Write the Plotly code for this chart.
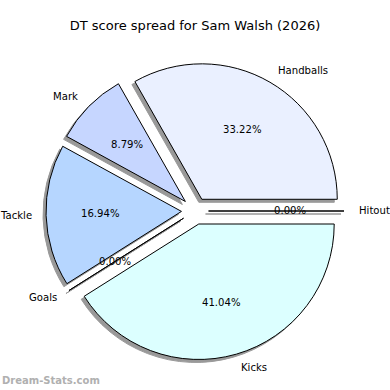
import math
import plotly.graph_objects as go

labels = ["Handballs", "Mark", "Tackle", "Goals", "Kicks", "Hitout"]
values = [33.22, 8.79, 16.94, 0.00, 41.04, 0.00]
colors = ["#eaf0ff", "#c6d6ff", "#b6d6ff", "#b6d6ff", "#dcffff", "#eaf0ff"]
explode = 0.1

total = sum(values)
# start first slice at 3 o'clock going counterclockwise (matplotlib default)
rot = 90 - 360 * values[0] / total

W = H = 390
cx, cy, R = 195, 211, 149  # pixel centre and half-size of pie domain
r = R / (1 + explode)       # pie radius as plotly draws it
sh = 3  # shadow offset px

def dom(dx, dy):
    return dict(x=[(cx - R + dx) / W, (cx + R + dx) / W],
                y=[1 - (cy + R + dy) / H, 1 - (cy - R + dy) / H])

fig = go.Figure()
fig.add_trace(go.Pie(
    labels=labels, values=values, sort=False, direction="counterclockwise",
    rotation=rot, pull=[explode] * len(labels), domain=dom(-sh, sh),
    marker=dict(colors=["#999999"] * len(labels), line=dict(color="#999999", width=1)),
    textinfo="none", showlegend=False, hoverinfo="skip",
))
fig.add_trace(go.Pie(
    labels=labels, values=values, sort=False, direction="counterclockwise",
    rotation=rot, pull=[explode] * len(labels), domain=dom(0, 0),
    marker=dict(colors=colors, line=dict(color="black", width=1)),
    textinfo="none", showlegend=False,
))

font = dict(family="DejaVu Sans", size=10.1, color="black")
annotations = []
cum = 0.0
for lab, v in zip(labels, values):
    th = 2 * math.pi * (cum + v / 2) / total
    cum += v
    c, s = math.cos(th), math.sin(th)
    # label at labeldistance 1.1 beyond the exploded centre
    lx, ly = cx + (1.1 + explode) * r * c, cy - (1.1 + explode) * r * s
    annotations.append(dict(text=lab, x=lx / W, y=1 - ly / H, xref="paper", yref="paper",
                            xanchor="left" if c > 0 else "right", yanchor="middle",
                            showarrow=False, font=font, borderpad=0))
    # percentage at pctdistance 0.6
    px_, py_ = cx + (0.6 + explode) * r * c, cy - (0.6 + explode) * r * s
    annotations.append(dict(text=f"{100 * v / total:.2f}%", x=px_ / W, y=1 - py_ / H,
                            xref="paper", yref="paper", xanchor="center", yanchor="middle",
                            showarrow=False, font=font))

annotations.append(dict(text="<b>Dream-Stats.com</b>", x=0, y=1 - 380 / H, xref="paper", yref="paper",
                        xanchor="left", yanchor="middle", showarrow=False,
                        font=dict(family="DejaVu Sans", size=10, color="#b0b0b0")))

fig.update_layout(
    width=W, height=H, margin=dict(l=0, r=0, t=0, b=0),
    paper_bgcolor="white", plot_bgcolor="white",
    title=dict(text="DT score spread for Sam Walsh (2026)", x=0.5, xanchor="center",
               y=1 - 25 / H, yanchor="middle",
               font=dict(family="DejaVu Sans", size=13, color="black")),
    annotations=annotations,
)
fig.write_html("out.html", config={"displayModeBar": False})

with open("out.html", encoding="utf-8") as f:
    html = f.read()
html = html.replace("<head>", "<head><style>html,body{margin:0;padding:0;overflow:hidden}</style>", 1)
with open("out.html", "w", encoding="utf-8") as f:
    f.write(html)
